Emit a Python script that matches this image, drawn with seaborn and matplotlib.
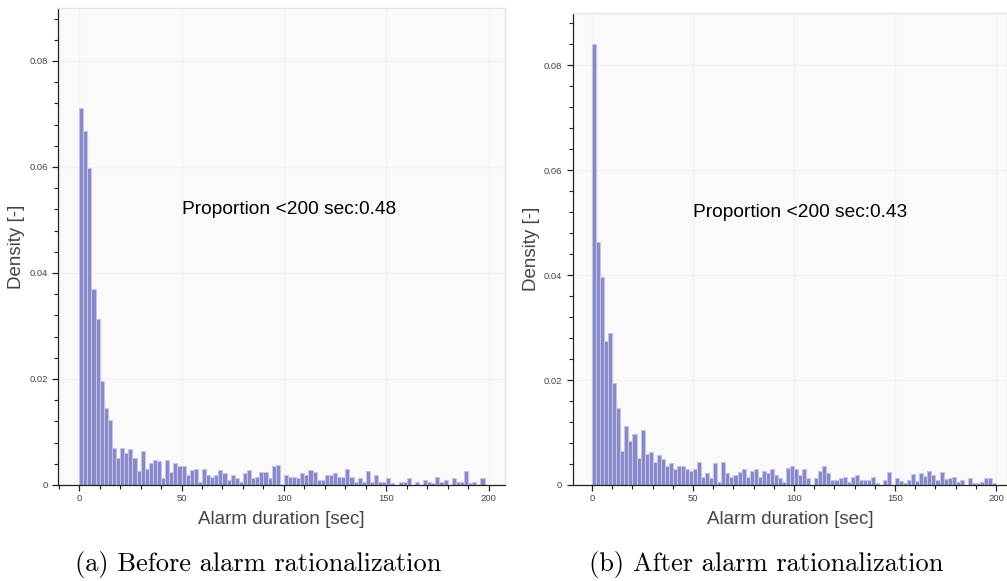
import numpy as np
import pandas as pd
import matplotlib
matplotlib.use("Agg")
import matplotlib.pyplot as plt
import seaborn as sns
from matplotlib.ticker import MultipleLocator, FixedLocator, FixedFormatter

# ---- data (bin density, 2-second bins from 0 to 200 s) ----
bin_edges = list(range(0, 202, 2))

density_before = [
    0.0711, 0.0667, 0.0599, 0.0370, 0.0313, 0.0196, 0.0145, 0.0123, 0.0070, 0.0051,
    0.0070, 0.0061, 0.0067, 0.0051, 0.0026, 0.0064, 0.0031, 0.0041, 0.0047, 0.0045,
    0.0013, 0.0047, 0.0025, 0.0041, 0.0035, 0.0035, 0.0019, 0.0028, 0.0031, 0.0006,
    0.0031, 0.0019, 0.0016, 0.0019, 0.0028, 0.0022, 0.0009, 0.0019, 0.0013, 0.0006,
    0.0022, 0.0028, 0.0013, 0.0016, 0.0025, 0.0025, 0.0013, 0.0035, 0.0038, 0.0000,
    0.0019, 0.0016, 0.0016, 0.0013, 0.0022, 0.0019, 0.0028, 0.0025, 0.0009, 0.0009,
    0.0019, 0.0019, 0.0023, 0.0016, 0.0016, 0.0031, 0.0016, 0.0006, 0.0013, 0.0006,
    0.0026, 0.0006, 0.0019, 0.0006, 0.0006, 0.0013, 0.0003, 0.0000, 0.0006, 0.0006,
    0.0013, 0.0000, 0.0006, 0.0000, 0.0009, 0.0006, 0.0003, 0.0016, 0.0006, 0.0009,
    0.0000, 0.0013, 0.0006, 0.0006, 0.0026, 0.0003, 0.0006, 0.0000, 0.0013, 0.0000,
]

density_after = [
    0.0841, 0.0464, 0.0396, 0.0275, 0.0290, 0.0194, 0.0147, 0.0065, 0.0113, 0.0084,
    0.0098, 0.0051, 0.0105, 0.0059, 0.0063, 0.0044, 0.0058, 0.0050, 0.0036, 0.0041,
    0.0030, 0.0036, 0.0036, 0.0030, 0.0027, 0.0030, 0.0044, 0.0016, 0.0022, 0.0013,
    0.0041, 0.0006, 0.0044, 0.0022, 0.0016, 0.0019, 0.0025, 0.0030, 0.0016, 0.0027,
    0.0030, 0.0016, 0.0027, 0.0022, 0.0030, 0.0019, 0.0013, 0.0006, 0.0033, 0.0036,
    0.0030, 0.0019, 0.0030, 0.0013, 0.0000, 0.0013, 0.0027, 0.0036, 0.0022, 0.0010,
    0.0010, 0.0013, 0.0016, 0.0006, 0.0016, 0.0019, 0.0010, 0.0010, 0.0010, 0.0016,
    0.0003, 0.0000, 0.0010, 0.0024, 0.0000, 0.0013, 0.0008, 0.0003, 0.0010, 0.0021,
    0.0008, 0.0022, 0.0018, 0.0027, 0.0019, 0.0010, 0.0024, 0.0011, 0.0013, 0.0016,
    0.0006, 0.0010, 0.0000, 0.0013, 0.0004, 0.0004, 0.0006, 0.0013, 0.0013, 0.0004,
]

annotations = ["Proportion <200 sec:0.48", "Proportion <200 sec:0.43"]
captions = ["(a) Before alarm rationalization", "(b) After alarm rationalization"]
x_label = "Alarm duration [sec]"
y_label = "Density [-]"
x_ticks = [0, 50, 100, 150, 200]
x_tick_labels = ["0", "50", "100", "150", "200"]
y_ticks = [0, 0.02, 0.04, 0.06, 0.08]
y_tick_labels = ["0", "0.02", "0.04", "0.06", "0.08"]

# ---- styling ----
sns.set_theme(style="white")
plt.rcParams["font.family"] = ["Liberation Sans", "DejaVu Sans"]

BAR = "#8787c9"
BAR_EDGE = "#c4c4e6"
BG = "#fafafa"
GRID = "#f2f2f2"
FRAME = "#e5e5e5"
AXC = "#444444"

fig = plt.figure(figsize=(10.07, 5.81), dpi=100)
W, H = 1007, 581

def px_axes(left, right, top, bottom):
    return fig.add_axes([left / W, 1 - bottom / H, (right - left) / W, (bottom - top) / H])

ax_a = px_axes(58.3, 505, 8, 485)
ax_b = px_axes(572.7, 1007, 12.7, 485)

centers = [(bin_edges[i] + bin_edges[i + 1]) / 2 for i in range(len(bin_edges) - 1)]

panels = [
    (ax_a, density_before, (-10.2, 208.0), annotations[0], 258.5, captions[0]),
    (ax_b, density_after, (-9.6, 205.4), annotations[1], 766.5, captions[1]),
]

for ax, dens, xlim, ann, cap_x, cap in panels:
    df = pd.DataFrame({"x": centers, "w": dens})
    sns.histplot(data=df, x="x", weights="w", bins=bin_edges, stat="count",
                 color=BAR, edgecolor=BAR_EDGE, linewidth=0.8, alpha=1.0, ax=ax)
    ax.set_facecolor(BG)
    ax.set_xlim(*xlim)
    ax.set_ylim(0, 0.090)

    ax.xaxis.set_major_locator(FixedLocator(x_ticks))
    ax.xaxis.set_major_formatter(FixedFormatter(x_tick_labels))
    ax.yaxis.set_major_locator(FixedLocator(y_ticks))
    ax.yaxis.set_major_formatter(FixedFormatter(y_tick_labels))
    ax.xaxis.set_minor_locator(MultipleLocator(10))
    ax.yaxis.set_minor_locator(MultipleLocator(0.004))

    ax.grid(True, which="major", color=GRID, linewidth=1.0)
    ax.set_axisbelow(True)

    ax.tick_params(axis="both", which="major", direction="out", length=4.5, width=0.9,
                   color="#222222", labelsize=6.8, labelcolor=AXC,
                   bottom=True, left=True)
    ax.tick_params(axis="both", which="minor", direction="out", length=3, width=0.8,
                   color="#222222", bottom=True, left=True)
    ax.tick_params(axis="x", which="major", pad=2)
    ax.tick_params(axis="y", which="major", pad=3)

    for s in ["left", "bottom"]:
        ax.spines[s].set_color("#222222")
        ax.spines[s].set_linewidth(0.9)
    for s in ["top", "right"]:
        ax.spines[s].set_color(FRAME)
        ax.spines[s].set_linewidth(1.0)

    ax.set_xlabel(x_label, fontsize=13.5, color=AXC, labelpad=6)
    ax.set_ylabel(y_label, fontsize=13.5, color=AXC, labelpad=3)

    ax.text(50, 0.052, ann, fontsize=13.8, color="black", ha="left", va="center")

    fig.text(cap_x / W, 1 - 565 / H, cap, fontsize=19, family=["cmr10", "DejaVu Serif"],
             ha="center", va="center", color="black")

fig.savefig("out.png", dpi=100, facecolor="white")
